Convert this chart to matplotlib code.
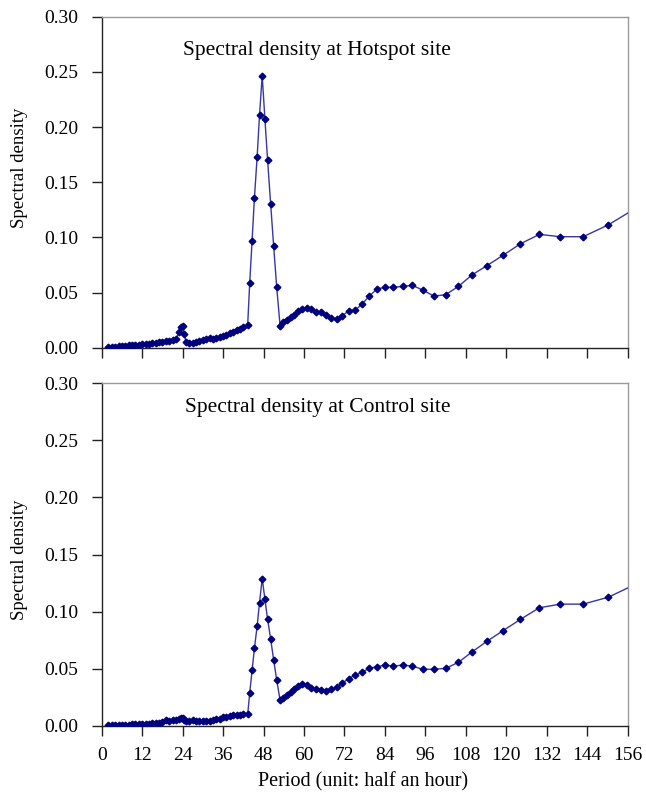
import matplotlib
matplotlib.use("Agg")
import matplotlib.pyplot as plt

# Period axis (unit: half an hour), shared by both sites
periods = [
    2, 3, 4, 5, 6, 7, 8, 9, 10, 11, 12, 13, 14, 15, 16, 17, 18, 19, 20, 21, 22,
    23, 23.5, 24, 24.5, 25, 26, 27, 28, 29, 30, 31, 32, 33, 34, 35, 36, 37, 38,
    39, 40, 41, 42,
    43.3, 43.9, 44.6, 45.3, 46.1, 46.8, 47.6, 48.4, 49.2, 50.1, 51.0, 51.9, 52.9,
    53.9, 54.9, 56.0, 57.1, 58.3, 59.5, 60.8, 62.1, 63.5, 64.9, 66.4, 68.0, 69.7,
    71.4, 73.2, 75.2, 77.2, 79.3,
    81.6, 84.0, 86.5, 89.3, 92.1, 95.2, 98.5, 102.0, 105.8, 109.8, 114.2, 119.0,
    124.2, 129.8, 136.0, 142.8, 150.3, 158.7,
]

hotspot_density = [
    0.0008, 0.0009, 0.0010, 0.0012, 0.0015, 0.0017, 0.0020, 0.0022, 0.0025,
    0.0028, 0.0030, 0.0033, 0.0038, 0.0045, 0.0042, 0.0048, 0.0055, 0.0060,
    0.0063, 0.0068, 0.0080,
    0.0140, 0.0185, 0.0200, 0.0120, 0.0050, 0.0040, 0.0045, 0.0055, 0.0062,
    0.0070, 0.0082, 0.0085, 0.0080, 0.0085, 0.0095, 0.0105, 0.0118, 0.0130,
    0.0145, 0.0158, 0.0172, 0.0188,
    0.0210, 0.0589, 0.0970, 0.1360, 0.1730, 0.2105, 0.2465, 0.2075, 0.1700,
    0.1305, 0.0920, 0.0550, 0.0200,
    0.0230, 0.0250, 0.0275, 0.0300, 0.0330, 0.0352, 0.0362, 0.0355, 0.0328,
    0.0322, 0.0295, 0.0268, 0.0260, 0.0290, 0.0333, 0.0340, 0.0395, 0.0465,
    0.0532, 0.0547, 0.0547, 0.0556, 0.0565, 0.0523, 0.0468, 0.0480, 0.0556,
    0.0659, 0.0743, 0.0837, 0.0942, 0.1027, 0.1006, 0.1006, 0.1114, 0.1270,
]

control_density = [
    0.0005, 0.0006, 0.0007, 0.0008, 0.0009, 0.0010, 0.0012, 0.0015, 0.0018,
    0.0018, 0.0019, 0.0020, 0.0021, 0.0022, 0.0024, 0.0028, 0.0035, 0.0050,
    0.0045, 0.0050, 0.0055,
    0.0065, 0.0072, 0.0070, 0.0050, 0.0040, 0.0045, 0.0050, 0.0042, 0.0040,
    0.0040, 0.0042, 0.0045, 0.0050, 0.0058, 0.0065, 0.0075, 0.0082, 0.0088,
    0.0094, 0.0097, 0.0100, 0.0101,
    0.0102, 0.0290, 0.0487, 0.0680, 0.0874, 0.1078, 0.1290, 0.1110, 0.0933,
    0.0763, 0.0577, 0.0402, 0.0227,
    0.0245, 0.0270, 0.0300, 0.0325, 0.0350, 0.0364, 0.0358, 0.0335, 0.0322,
    0.0318, 0.0310, 0.0322, 0.0340, 0.0375, 0.0415, 0.0445, 0.0470, 0.0505,
    0.0518, 0.0533, 0.0524, 0.0533, 0.0524, 0.0496, 0.0496, 0.0504, 0.0557,
    0.0647, 0.0740, 0.0833, 0.0933, 0.1034, 0.1066, 0.1066, 0.1127, 0.1245,
]

x_ticks = [0, 12, 24, 36, 48, 60, 72, 84, 96, 108, 120, 132, 144, 156]
y_ticks = [0.00, 0.05, 0.10, 0.15, 0.20, 0.25, 0.30]
panel_titles = ["Spectral density at Hotspot site", "Spectral density at Control site"]

plt.rcParams["font.family"] = ["Liberation Serif", "DejaVu Serif"]
LINE = "#3636a6"
MARK = "#00007f"

fig = plt.figure(figsize=(6.46, 8.06), dpi=100)
W, H = 646.0, 806.0
ax_top = fig.add_axes([101.7 / W, 1 - 347.7 / H, 526 / W, 331 / H])
ax_bot = fig.add_axes([101.7 / W, 1 - 726 / H, 526 / W, 343 / H])

panels = [
    (ax_top, hotspot_density, panel_titles[0], 0.898),
    (ax_bot, control_density, panel_titles[1], 0.928),
]

for ax, dens, title, ty in panels:
    ax.plot(periods, dens, color=LINE, lw=1.0, marker="D", ms=3.4,
            mfc=MARK, mec=MARK, clip_on=True, zorder=3)
    ax.set_xlim(0, 156)
    ax.set_ylim(0, 0.30)
    ax.set_xticks(x_ticks)
    ax.set_yticks(y_ticks)
    ax.set_yticklabels([f"{v:.2f}" for v in y_ticks], fontsize=14)
    ax.tick_params(axis="both", direction="out", length=7, width=1,
                   color="#222222")
    ax.tick_params(axis="y", pad=10)
    for side in ("top", "right"):
        ax.spines[side].set_color("#9a9a9a")
        ax.spines[side].set_linewidth(1.0)
    for side in ("left", "bottom"):
        ax.spines[side].set_color("#222222")
        ax.spines[side].set_linewidth(1.0)
    ax.text(0.41, ty, title, transform=ax.transAxes, ha="center", va="center",
            fontsize=15.5, zorder=4,
            bbox=dict(facecolor="white", edgecolor="none", pad=3))

ax_top.set_xticklabels([])
ax_bot.set_xticklabels([str(t) for t in x_ticks], fontsize=14)
ax_bot.tick_params(axis="x", pad=8)

fig.text(20 / W, 1 - 168 / H, "Spectral density", rotation=90,
         ha="center", va="center", fontsize=13.5)
fig.text(20 / W, 1 - 560 / H, "Spectral density", rotation=90,
         ha="center", va="center", fontsize=13.5)
fig.text(363 / W, 1 - 782 / H, "Period (unit: half an hour)",
         ha="center", va="center", fontsize=14.5)

fig.savefig("out.png", dpi=100)
